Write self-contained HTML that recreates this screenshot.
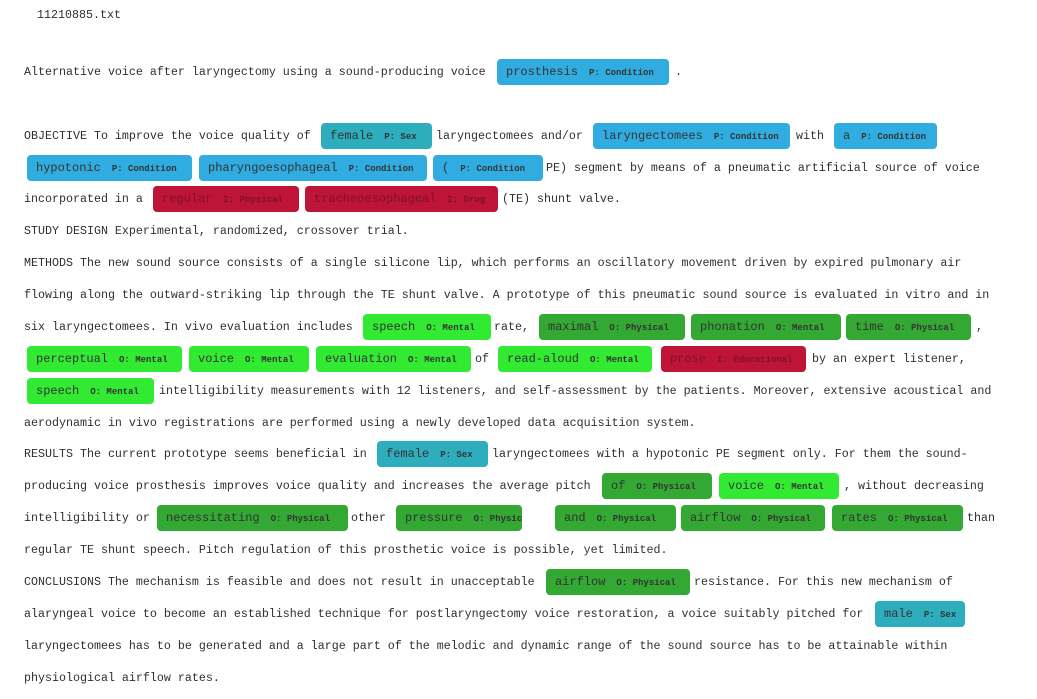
<!DOCTYPE html>
<html><head><meta charset="utf-8"><style>
body{margin:0;width:1037px;height:699px;background:#fff;position:relative;overflow:hidden;font-family:"Liberation Mono",monospace;font-size:11.67px;color:#2f2f2f;}
.t{position:absolute;white-space:pre;line-height:14px;}
.g{position:absolute;height:26px;border-radius:4px;white-space:pre;line-height:26px;padding-left:9px;box-sizing:border-box;font-size:12px;color:#333;overflow:hidden;}
.g b{font-size:9px;font-weight:bold;margin-left:11px;}
.B{background:#30ace0}.T{background:#2eadbd}.R{background:#be1438;color:#7e1228}.L{background:#33ea33}.D{background:#33a833}
</style></head><body>
<div class="t" style="left:37px;top:8px">11210885.txt</div>
<div class="t" style="left:24px;top:65px">Alternative voice after laryngectomy using a sound-producing voice</div>
<div class="g B" style="left:497px;top:59px;width:172px">prosthesis<b>P: Condition</b></div>
<div class="t" style="left:675px;top:65px">.</div>

<div class="t" style="left:24px;top:129px">OBJECTIVE To improve the voice quality of</div>
<div class="g T" style="left:321px;top:123px;width:111px">female<b>P: Sex</b></div>
<div class="t" style="left:436px;top:129px">laryngectomees and/or</div>
<div class="g B" style="left:593px;top:123px;width:197px">laryngectomees<b>P: Condition</b></div>
<div class="t" style="left:796px;top:129px">with</div>
<div class="g B" style="left:834px;top:123px;width:103px">a<b>P: Condition</b></div>

<div class="g B" style="left:27px;top:155px;width:165px">hypotonic<b>P: Condition</b></div>
<div class="g B" style="left:199px;top:155px;width:228px">pharyngoesophageal<b>P: Condition</b></div>
<div class="g B" style="left:433px;top:155px;width:110px">(<b>P: Condition</b></div>
<div class="t" style="left:546px;top:161px">PE) segment by means of a pneumatic artificial source of voice</div>

<div class="t" style="left:24px;top:192px">incorporated in a</div>
<div class="g R" style="left:153px;top:186px;width:146px">regular<b>I: Physical</b></div>
<div class="g R" style="left:305px;top:186px;width:193px">tracheoesophageal<b>I: Drug</b></div>
<div class="t" style="left:502px;top:192px">(TE) shunt valve.</div>

<div class="t" style="left:24px;top:224px">STUDY DESIGN Experimental, randomized, crossover trial.</div>
<div class="t" style="left:24px;top:256px">METHODS The new sound source consists of a single silicone lip, which performs an oscillatory movement driven by expired pulmonary air</div>
<div class="t" style="left:24px;top:288px">flowing along the outward-striking lip through the TE shunt valve. A prototype of this pneumatic sound source is evaluated in vitro and in</div>

<div class="t" style="left:24px;top:320px">six laryngectomees. In vivo evaluation includes</div>
<div class="g L" style="left:363px;top:314px;width:128px">speech<b>O: Mental</b></div>
<div class="t" style="left:494px;top:320px">rate,</div>
<div class="g D" style="left:539px;top:314px;width:146px">maximal<b>O: Physical</b></div>
<div class="g D" style="left:691px;top:314px;width:150px">phonation<b>O: Mental</b></div>
<div class="g D" style="left:846px;top:314px;width:125px">time<b>O: Physical</b></div>
<div class="t" style="left:976px;top:320px">,</div>

<div class="g L" style="left:27px;top:346px;width:155px">perceptual<b>O: Mental</b></div>
<div class="g L" style="left:189px;top:346px;width:120px">voice<b>O: Mental</b></div>
<div class="g L" style="left:316px;top:346px;width:155px">evaluation<b>O: Mental</b></div>
<div class="t" style="left:475px;top:352px">of</div>
<div class="g L" style="left:498px;top:346px;width:154px">read-aloud<b>O: Mental</b></div>
<div class="g R" style="left:661px;top:346px;width:145px">prose<b>I: Educational</b></div>
<div class="t" style="left:812px;top:352px">by an expert listener,</div>

<div class="g L" style="left:27px;top:378px;width:127px">speech<b>O: Mental</b></div>
<div class="t" style="left:159px;top:384px">intelligibility measurements with 12 listeners, and self-assessment by the patients. Moreover, extensive acoustical and</div>
<div class="t" style="left:24px;top:416px">aerodynamic in vivo registrations are performed using a newly developed data acquisition system.</div>

<div class="t" style="left:24px;top:447px">RESULTS The current prototype seems beneficial in</div>
<div class="g T" style="left:377px;top:441px;width:111px">female<b>P: Sex</b></div>
<div class="t" style="left:492px;top:447px">laryngectomees with a hypotonic PE segment only. For them the sound-</div>

<div class="t" style="left:24px;top:479px">producing voice prosthesis improves voice quality and increases the average pitch</div>
<div class="g D" style="left:602px;top:473px;width:110px">of<b>O: Physical</b></div>
<div class="g L" style="left:719px;top:473px;width:120px">voice<b>O: Mental</b></div>
<div class="t" style="left:844px;top:479px">, without decreasing</div>

<div class="t" style="left:24px;top:511px">intelligibility or</div>
<div class="g D" style="left:157px;top:505px;width:191px">necessitating<b>O: Physical</b></div>
<div class="t" style="left:351px;top:511px">other</div>
<div class="g D" style="left:396px;top:505px;width:126px">pressure<b>O: Physical</b></div>
<div class="g D" style="left:555px;top:505px;width:121px">and<b>O: Physical</b></div>
<div class="g D" style="left:681px;top:505px;width:144px">airflow<b>O: Physical</b></div>
<div class="g D" style="left:832px;top:505px;width:131px">rates<b>O: Physical</b></div>
<div class="t" style="left:967px;top:511px">than</div>

<div class="t" style="left:24px;top:543px">regular TE shunt speech. Pitch regulation of this prosthetic voice is possible, yet limited.</div>
<div class="t" style="left:24px;top:575px">CONCLUSIONS The mechanism is feasible and does not result in unacceptable</div>
<div class="g D" style="left:546px;top:569px;width:144px">airflow<b>O: Physical</b></div>
<div class="t" style="left:694px;top:575px">resistance. For this new mechanism of</div>

<div class="t" style="left:24px;top:607px">alaryngeal voice to become an established technique for postlaryngectomy voice restoration, a voice suitably pitched for</div>
<div class="g T" style="left:875px;top:601px;width:90px">male<b>P: Sex</b></div>
<div class="t" style="left:24px;top:639px">laryngectomees has to be generated and a large part of the melodic and dynamic range of the sound source has to be attainable within</div>
<div class="t" style="left:24px;top:671px">physiological airflow rates.</div>
</body></html>
